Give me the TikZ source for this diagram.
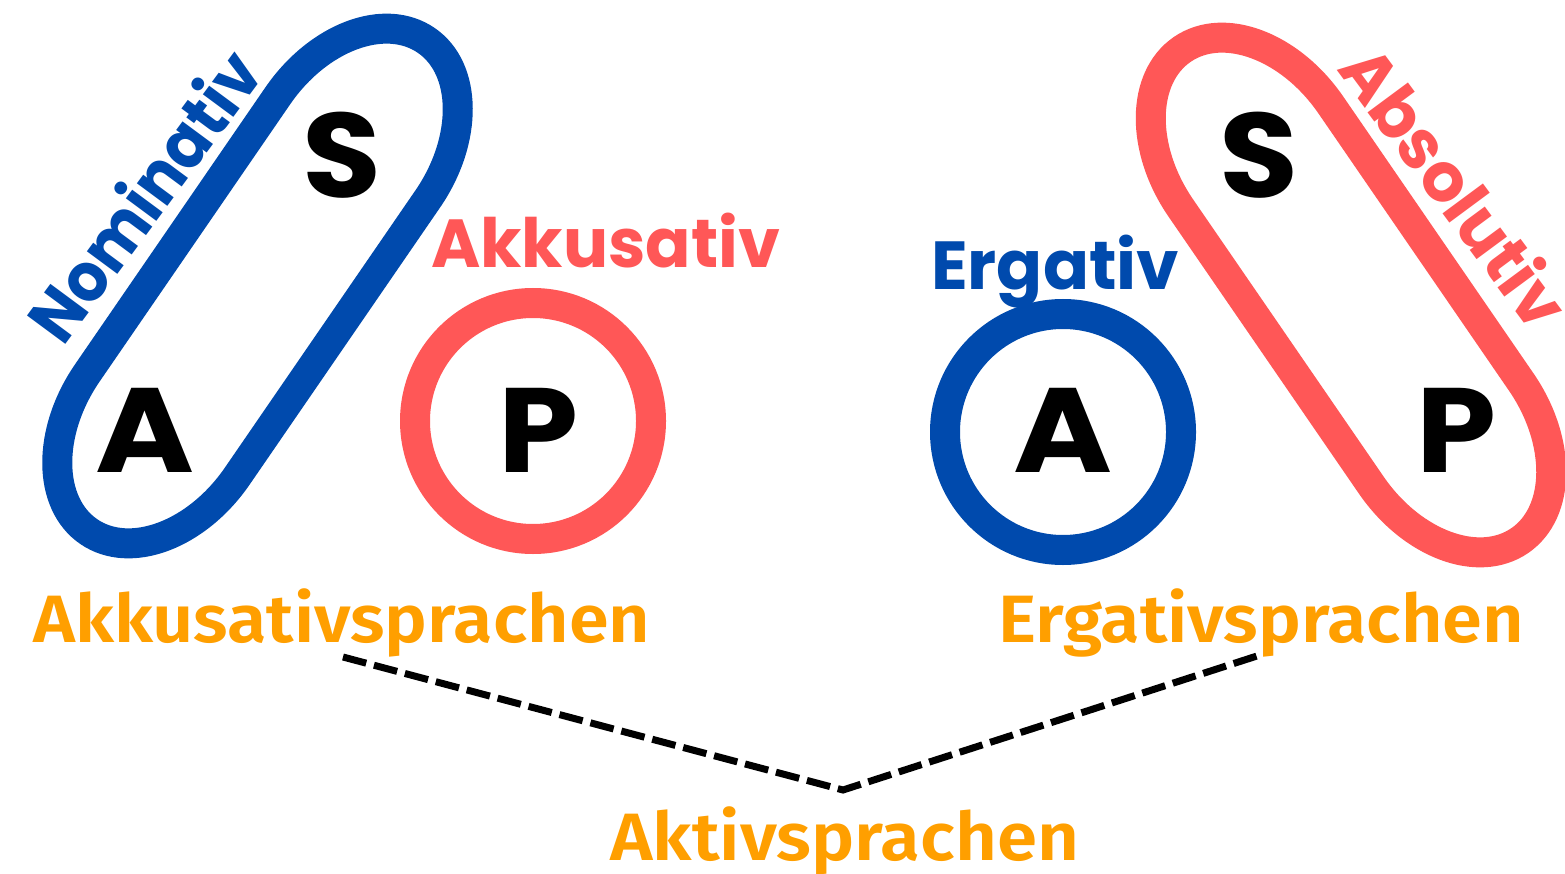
\documentclass[tikz,border=0pt]{standalone}
\usepackage{fontspec}
\usepackage{graphicx}
\setmainfont{Poppins}[UprightFont=* Bold]
\newfontfamily\orfont{Fira Sans}[UprightFont=* SemiBold]
\definecolor{myblue}{HTML}{004AAD}
\definecolor{myred}{HTML}{FF5757}
\definecolor{myorange}{HTML}{FF9F00}
\newcommand\fitw[2]{\resizebox{#1pt}{\height}{#2}}
\begin{document}
\begin{tikzpicture}[x=1pt,y=-1pt,
  ring/.style={line width=30pt},
  letter/.style={inner sep=0pt,anchor=base,font=\fontsize{120}{120}\selectfont,text=black},
  label/.style={inner sep=0pt,font=\fontsize{68}{68}\selectfont},
  lang/.style={inner sep=0pt,anchor=base west,text=myorange,font=\orfont\fontsize{67}{67}\selectfont},
  dashline/.style={line width=7pt,dash pattern=on 24pt off 8pt}]
\useasboundingbox[fill=white] (0,0) rectangle (1565,874);
% left stadium (elliptic caps)
\begin{scope}[shift={(257.5,286)},rotate=55.5,y=1pt]
  \draw[ring,myblue] (-168pt,91pt) -- (168pt,91pt)
    arc[start angle=90,end angle=-90,x radius=130pt,y radius=91pt]
    -- (-168pt,-91pt)
    arc[start angle=270,end angle=90,x radius=130pt,y radius=91pt] -- cycle;
\end{scope}
% right stadium
\begin{scope}[shift={(1351,295)},rotate=-55.5,y=1pt]
  \draw[ring,myred] (-168pt,91pt) -- (168pt,91pt)
    arc[start angle=90,end angle=-90,x radius=130pt,y radius=91pt]
    -- (-168pt,-91pt)
    arc[start angle=270,end angle=90,x radius=130pt,y radius=91pt] -- cycle;
\end{scope}
% circles
\node[ring,draw=myred,circle,minimum size=236pt,inner sep=0pt] (pc) at (533,421) {};
\node[ring,draw=myblue,circle,minimum size=236pt,inner sep=0pt] (ac) at (1063,432) {};
% letters
\node[letter] (s1) at (341.5,198) {\fitw{79}{S}};
\node[letter] (a1) at (145,472) {\fitw{99}{A}};
\node[letter] (p1) at (538,472) {\fitw{80}{P}};
\node[letter] (s2) at (1259,198) {\fitw{79}{S}};
\node[letter] (a2) at (1063,472) {\fitw{99}{A}};
\node[letter] (p2) at (1456,472) {\fitw{80}{P}};
% labels
\node[label,text=myblue,rotate=53.5] (nom) at (143,195) {\fitw{340}{Nominativ}};
\node[label,text=myred,rotate=-53.5] (abs) at (1456,186) {\fitw{330}{Absolutiv}};
\node[label,text=myred,anchor=base west] (akk) at (431,268) {\fitw{349}{Akkusativ}};
\node[label,text=myblue,anchor=base west] (erg) at (931,290) {\fitw{248}{Ergativ}};
% languages
\node[lang] (akks) at (33,642) {\fitw{617}{Akkusativsprachen}};
\node[lang] (ergs) at (998,642) {\fitw{526}{Ergativsprachen}};
\node[lang] (akts) at (610,860) {\fitw{469}{Aktivsprachen}};
% dashed connector
\coordinate (dl) at (343,657);
\coordinate (dm) at (843,790);
\coordinate (dr) at (1260,655);
\draw[dashline] (dl) -- (dm) -- (dr);
\end{tikzpicture}
\end{document}
